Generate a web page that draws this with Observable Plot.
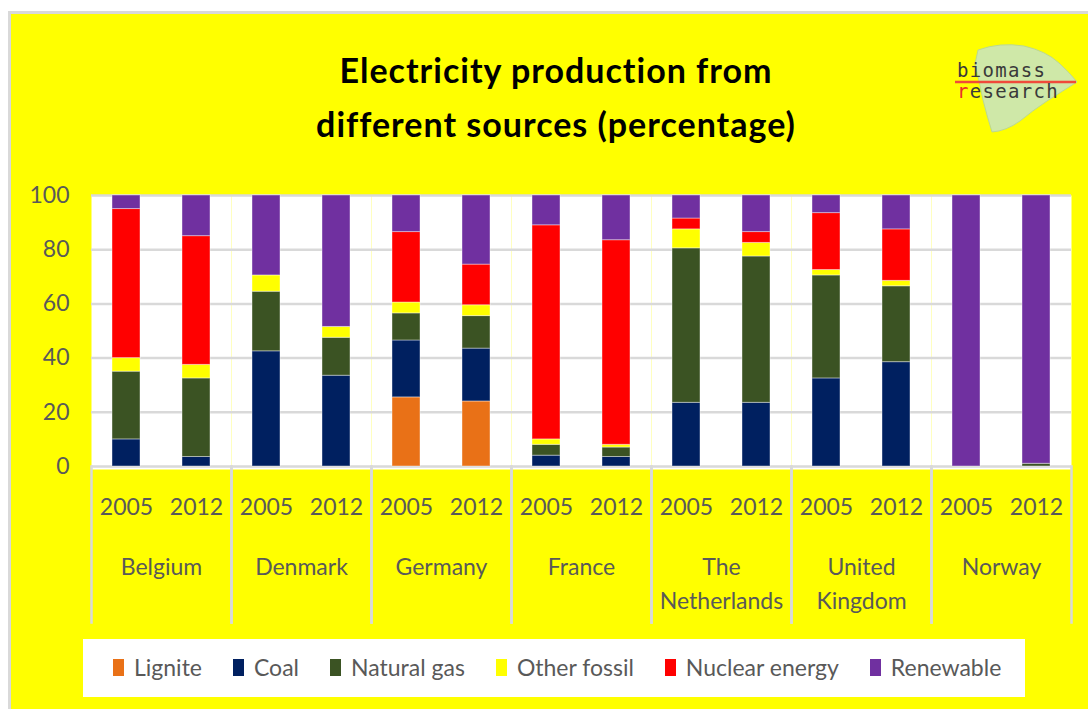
<!DOCTYPE html>
<html><head><meta charset="utf-8">
<script src="https://cdn.jsdelivr.net/npm/d3@7"></script>
<script src="https://cdn.jsdelivr.net/npm/@observablehq/plot@0.6"></script>
<style>
html,body{margin:0;padding:0;background:#fff;}
#page{position:relative;width:1088px;height:709px;overflow:hidden;font-family:Lato,sans-serif;}
#bg{position:absolute;left:8px;top:11px;right:0;bottom:0;background:#ffff00;border-left:3px solid #d9d9d9;border-top:3px solid #d9d9d9;}
#title{position:absolute;left:206px;top:43px;width:700px;text-align:center;font-weight:700;font-size:34px;letter-spacing:1px;line-height:54px;color:#000;}
#logo{position:absolute;left:940px;top:30px;}
#chart{position:absolute;left:0;top:170px;}
#legend{position:absolute;left:83px;top:639px;width:942px;height:58px;background:#fff;}
#legend .row{position:absolute;left:30px;top:13px;height:30px;display:flex;align-items:center;gap:31px;}
#legend .item{display:flex;align-items:center;font-size:23px;line-height:30px;color:#595959;white-space:nowrap;}
#legend .sw{width:11px;height:17px;margin-right:10px;}
</style></head>
<body>
<div id="page">
  <div id="bg"></div>
  <div id="title">Electricity production from<br>different sources (percentage)</div>
  <svg id="logo" width="148" height="110" viewBox="0 0 148 110">
    <path d="M38,20 Q60,12 84,16 Q106,21 119,33 Q130,43 137,52 Q121,62 107,71 Q92,81 80,91 Q66,101 52,102 Q47,86 43,70 Q39,50 35,34 Z" fill="#cfe8a8" stroke="#bcd98f" stroke-width="1"/>
    <text x="17" y="47" font-family="DejaVu Sans Mono, monospace" font-size="19" letter-spacing="1.3" fill="#3a3a3a">biomass</text>
    <line x1="15" x2="136" y1="52" y2="52" stroke="#f04a3a" stroke-width="2.5"/>
    <text x="17" y="68" font-family="DejaVu Sans Mono, monospace" font-size="19" letter-spacing="1.3" fill="#3a3a3a"><tspan fill="#e8302a">r</tspan>esearch</text>
  </svg>
  <div id="chart"></div>
  <div id="legend"><div class="row"></div></div>
</div>
<script>
const countries = ["Belgium","Denmark","Germany","France","The Netherlands","United Kingdom","Norway"];
const countryLabels = ["Belgium","Denmark","Germany","France","The\nNetherlands","United\nKingdom","Norway"];
const years = ["2005","2012"];
const sources = ["Lignite","Coal","Natural gas","Other fossil","Nuclear energy","Renewable"];
const colors = ["#e97117","#002060","#3b5323","#ffff00","#ff0000","#7030a0"];
const yTicks = [0,20,40,60,80,100];
// values per bar: Belgium 2005, Belgium 2012, Denmark 2005, Denmark 2012, ...
const lignite     = [0,0,     0,0,       25.5,24,   0,0,      0,0,      0,0,       0,0];
const coal        = [10,3.5,  42.5,33.5, 21,19.5,   4,3.5,    23.5,23.5, 32.5,38.5, 0,0];
const naturalGas  = [25,29,   22,14,     10,12,     4,3.5,    57,54,    38,28,     0,1];
const otherFossil = [5,5,     6,4,       4,4,       2,1,      7,5,      2,2,       0,0];
const nuclear     = [55,47.5, 0,0,       26,15,     79,75.5,  4,4,      21,19,     0,0];
const renewable   = [5,15,    29.5,48.5, 13.5,25.5, 11,16.5,  8.5,13.5, 6.5,12.5,  100,99];
const series = [lignite, coal, naturalGas, otherFossil, nuclear, renewable];

const data = [];
countries.forEach((c, i) => years.forEach((y, j) => sources.forEach((s, k) =>
  data.push({country: c, year: y, source: s, value: series[k][i * 2 + j]}))));

const chart = Plot.plot({
  width: 1088, height: 470,
  marginLeft: 89, marginRight: 16, marginTop: 25, marginBottom: 174,
  style: {background: "transparent", color: "#595959", fontFamily: "Lato, sans-serif"},
  fx: {domain: countries, padding: 0},
  x: {domain: years, paddingInner: 0.6, paddingOuter: 0.3},
  y: {domain: [0, 100]},
  color: {domain: sources, range: colors},
  marks: [
    Plot.frame({fill: "white", insetBottom: -3}),
    Plot.gridY(yTicks, {stroke: "#d9d9d9", strokeOpacity: 1, strokeWidth: 2.5}),
    Plot.frame({anchor: "left", stroke: "#d9d9d9", strokeOpacity: 1, strokeWidth: 2.5, insetTop: 271, insetBottom: -156}),
    Plot.frame({anchor: "right", stroke: "#d9d9d9", strokeOpacity: 1, strokeWidth: 2.5, insetTop: 271, insetBottom: -156}),
    Plot.barY(data, {fx: "country", x: "year", y: "value", fill: "source", stroke: "white", strokeOpacity: 0.4, strokeWidth: 1}),
    Plot.axisY(yTicks, {tickSize: 0, tickPadding: 22, fontSize: 23, label: null}),
    Plot.axisX({tickSize: 0, tickPadding: 32, fontSize: 23, label: null}),
    Plot.axisFx({anchor: "bottom", tickSize: 0, tickPadding: 84, fontSize: 23, label: null, lineHeight: 1.5,
      tickFormat: d => countryLabels[countries.indexOf(d)]})
  ]
});
document.getElementById("chart").appendChild(chart);

const row = document.querySelector("#legend .row");
sources.forEach((s, i) => {
  const item = document.createElement("div");
  item.className = "item";
  const sw = document.createElement("span");
  sw.className = "sw";
  sw.style.background = colors[i];
  item.appendChild(sw);
  item.appendChild(document.createTextNode(s));
  row.appendChild(item);
});
</script>
</body></html>
